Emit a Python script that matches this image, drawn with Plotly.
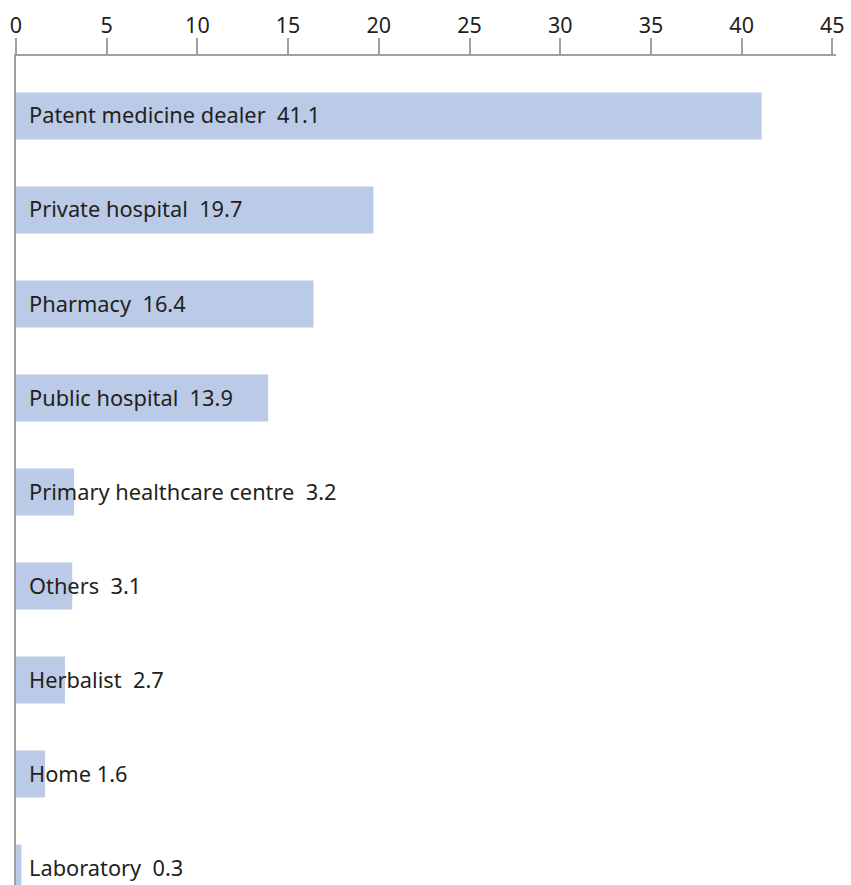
import plotly.graph_objects as go

categories = ["Patent medicine dealer", "Private hospital", "Pharmacy", "Public hospital",
              "Primary healthcare centre", "Others", "Herbalist", "Home", "Laboratory"]
values = [41.1, 19.7, 16.4, 13.9, 3.2, 3.1, 2.7, 1.6, 0.3]
separators = ["\u00a0\u00a0", "\u00a0\u00a0", "\u00a0\u00a0", "\u00a0\u00a0", "\u00a0\u00a0",
              "\u00a0\u00a0", "\u00a0\u00a0", "\u00a0", "\u00a0\u00a0"]
tick_values = [0, 5, 10, 15, 20, 25, 30, 35, 40, 45]

FONT = "Noto Sans"
TEXT_COLOR = "#231f20"
AXIS_COLOR = "#a0a0a0"
BAR_COLOR = "#bbcbe7"

fig = go.Figure()
fig.add_trace(go.Bar(
    x=values, y=categories, orientation="h",
    marker=dict(color=BAR_COLOR, line=dict(width=0)),
    width=0.5, hoverinfo="x+y",
))

for cat, val, sep in zip(categories, values, separators):
    fig.add_annotation(
        x=0, y=cat, xref="x", yref="y",
        text=f"{cat}{sep}{val}", showarrow=False,
        xanchor="left", yanchor="middle", xshift=11, yshift=1,
        font=dict(family=FONT, size=21.8, color=TEXT_COLOR),
    )

fig.update_layout(
    width=851, height=885,
    margin=dict(l=16, r=15, t=56, b=0),
    paper_bgcolor="white", plot_bgcolor="white",
    showlegend=False,
    font=dict(family=FONT, size=21, color=TEXT_COLOR),
    xaxis=dict(
        side="top", range=[0, 45.2], tickvals=tick_values,
        showgrid=False, zeroline=False,
        showline=True, linecolor=AXIS_COLOR, linewidth=1.5,
        ticks="outside", ticklen=16, tickcolor=AXIS_COLOR, tickwidth=1.5,
        ticklabelstandoff=-3,
        tickfont=dict(family=FONT, size=21.5, color=TEXT_COLOR),
    ),
    yaxis=dict(
        type="category", categoryorder="array", categoryarray=categories,
        range=[8.18, -0.638], showticklabels=False, ticks="",
        showgrid=False, zeroline=False,
        showline=True, linecolor=AXIS_COLOR, linewidth=1.5,
    ),
)

fig.write_html("out.html")
